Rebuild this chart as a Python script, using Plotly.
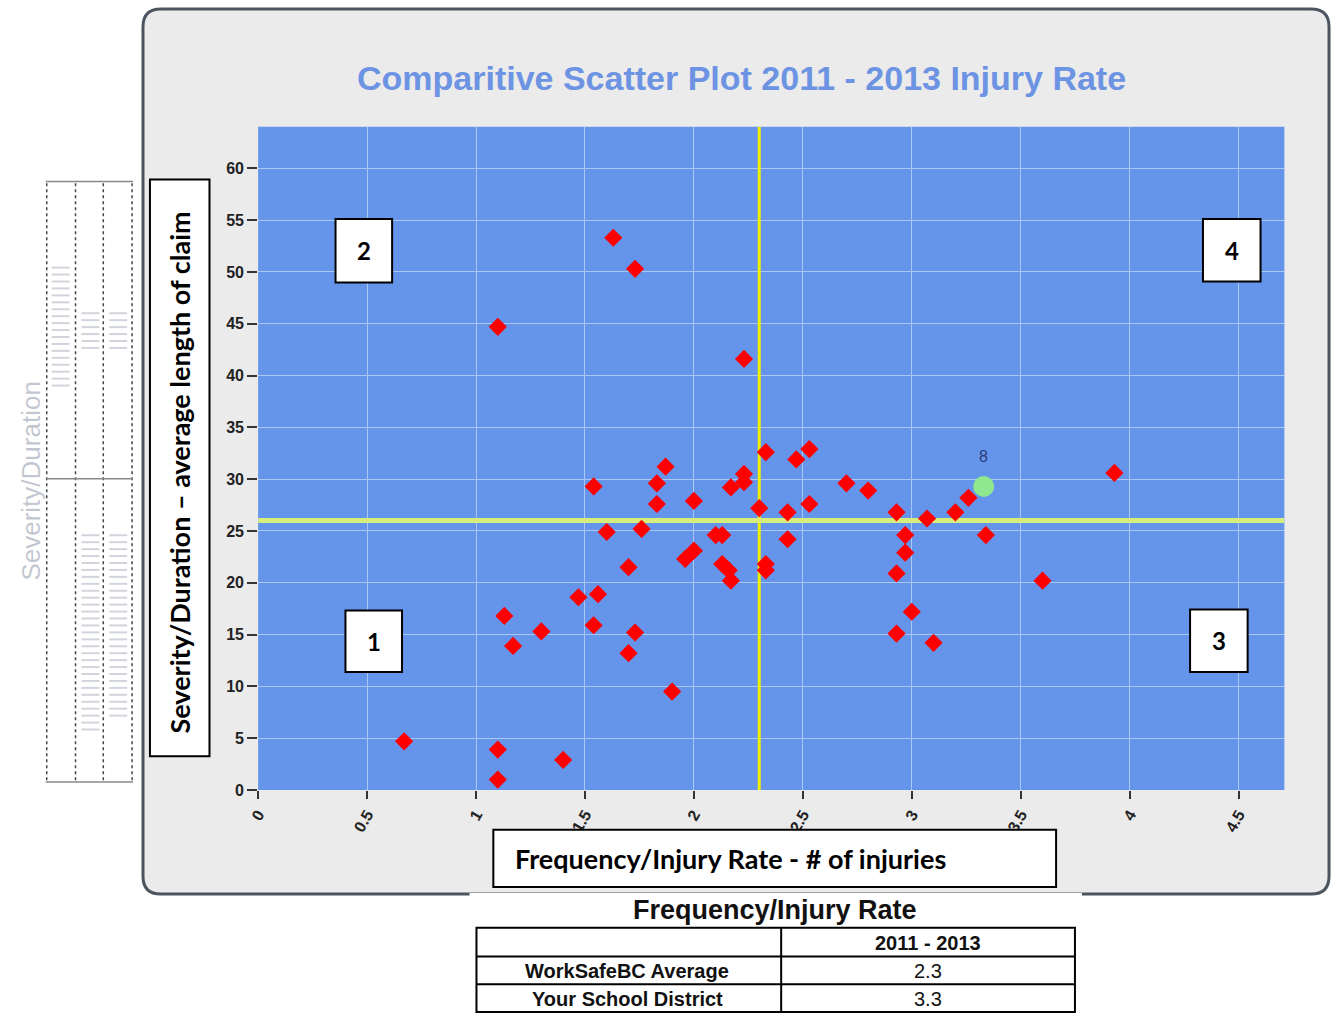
import plotly.graph_objects as go

# ---------------- data ----------------
freq_rate = [0.67, 1.10, 1.10, 1.10, 1.13, 1.17, 1.30, 1.40, 1.47, 1.54, 1.54, 1.56, 1.60, 1.63, 1.73,
             1.70, 1.70, 1.73, 1.76, 1.83, 1.83, 1.87, 1.90, 1.96, 2.00, 2.00, 2.10, 2.13, 2.13, 2.16,
             2.17, 2.17, 2.23, 2.23, 2.23, 2.30, 2.33, 2.33, 2.33, 2.43, 2.43, 2.47, 2.53, 2.53, 2.70,
             2.80, 2.93, 2.93, 2.93, 2.97, 2.97, 3.00, 3.07, 3.10, 3.20, 3.26, 3.34, 3.60, 3.93]
severity = [4.7, 44.7, 3.9, 1.0, 16.8, 13.9, 15.3, 2.9, 18.6, 29.3, 15.9, 18.9, 24.9, 53.3, 50.3,
            21.5, 13.2, 15.2, 25.2, 27.6, 29.6, 31.2, 9.5, 22.3, 23.1, 27.9, 24.6, 24.6, 21.8, 21.2,
            20.2, 29.2, 41.6, 30.5, 29.7, 27.2, 32.6, 21.8, 21.2, 26.8, 24.2, 31.9, 32.9, 27.6, 29.6,
            28.9, 26.8, 20.9, 15.1, 24.6, 22.9, 17.2, 26.2, 14.2, 26.8, 28.2, 24.6, 20.2, 30.6]

district_x = [3.33]
district_y = [29.3]
district_label = ["8"]

avg_severity = 26.0

x_ticks = [0, 0.5, 1, 1.5, 2, 2.5, 3, 3.5, 4, 4.5]
x_tick_text = ["0", "0.5", "1", "1.5", "2", "2.5", "3", "3.5", "4", "4.5"]
y_ticks = [0, 5, 10, 15, 20, 25, 30, 35, 40, 45, 50, 55, 60]
y_tick_text = ["0", "5", "10", "15", "20", "25", "30", "35", "40", "45", "50", "55", "60"]

table_title = "Frequency/Injury Rate"
table_header = ["", "2011 - 2013"]
table_rows = ["WorkSafeBC Average", "Your School District"]
table_values = [2.3, 3.3]

quadrant_labels = ["1", "2", "3", "4"]

title_text = "Comparitive Scatter Plot 2011 - 2013 Injury Rate"
x_label = "Frequency/Injury Rate - # of injuries"
y_label = "Severity/Duration \u2013 average length of claim"

# ---------------- geometry helpers ----------------
W, H = 1332, 1022


def fx(px):
    return px / W


def fy(py):
    return 1 - py / H


X_RANGE = [0, 4.71]
Y_RANGE = [0, 64]

fig = go.Figure()

# average lines
avg_rate = table_values[0]
fig.add_trace(go.Scatter(x=[avg_rate, avg_rate], y=Y_RANGE, mode="lines",
                         line=dict(color="#f2ee00", width=3), hoverinfo="skip"))
fig.add_trace(go.Scatter(x=X_RANGE, y=[avg_severity, avg_severity], mode="lines",
                         line=dict(color="#d8ee7c", width=5), hoverinfo="skip"))

# districts
fig.add_trace(go.Scatter(x=freq_rate, y=severity, mode="markers",
                         marker=dict(symbol="diamond", size=14, color="#ff0000",
                                     line=dict(width=0))))
fig.add_trace(go.Scatter(x=district_x, y=district_y, mode="markers",
                         marker=dict(symbol="circle", size=21, color="#8fe88f")))

shapes = []
annotations = []


def text_ann(px, py, text, size, family="Liberation Sans", color="black", angle=0,
             xanchor="center", yanchor="middle"):
    annotations.append(dict(x=fx(px), y=fy(py), xref="paper", yref="paper", showarrow=False,
                            text=text, textangle=angle, xanchor=xanchor, yanchor=yanchor,
                            font=dict(family=family, size=size, color=color)))


def rounded_path(L, T, R, B, r):
    return (f"M {fx(L + r)},{fy(T)} L {fx(R - r)},{fy(T)} Q {fx(R)},{fy(T)} {fx(R)},{fy(T + r)} "
            f"L {fx(R)},{fy(B - r)} Q {fx(R)},{fy(B)} {fx(R - r)},{fy(B)} "
            f"L {fx(L + r)},{fy(B)} Q {fx(L)},{fy(B)} {fx(L)},{fy(B - r)} "
            f"L {fx(L)},{fy(T + r)} Q {fx(L)},{fy(T)} {fx(L + r)},{fy(T)} Z")


# outer panel (rounded)
shapes.append(dict(type="path", path=rounded_path(134, 9, 1329, 902, 18), xref="paper", yref="paper",
                   layer="below", fillcolor="#ebebeb", line=dict(color="#4b5560", width=3)))
# plot area background
shapes.append(dict(type="rect", xref="paper", yref="paper", layer="below",
                   x0=fx(250), x1=fx(1284), y0=fy(797), y1=fy(128),
                   fillcolor="#6594eb", line=dict(width=0)))

# left faded table decoration
for xx in [37, 66, 94, 123]:
    shapes.append(dict(type="line", xref="paper", yref="paper", x0=fx(xx), x1=fx(xx),
                       y0=fy(185), y1=fy(789), line=dict(color="#444444", width=1.5, dash="dot")))
for yy in [183, 483, 789]:
    shapes.append(dict(type="line", xref="paper", yref="paper", x0=fx(36), x1=fx(124),
                       y0=fy(yy), y1=fy(yy), line=dict(color="#888888", width=1.5)))
for (x0, x1, y0, y1) in [(42, 60, 270, 390), (72, 90, 316, 356), (100, 118, 316, 356),
                         (72, 90, 540, 740), (100, 118, 540, 725)]:
    for k in range(int(y0), int(y1), 7):
        shapes.append(dict(type="line", xref="paper", yref="paper", x0=fx(x0), x1=fx(x1),
                           y0=fy(k), y1=fy(k), line=dict(color="rgba(90,100,125,0.28)", width=2)))
text_ann(21, 485, "Severity/Duration", 26, color="rgba(80,90,120,0.35)", angle=-90)

# y label box
shapes.append(dict(type="rect", xref="paper", yref="paper", layer="above",
                   x0=fx(141), x1=fx(201), y0=fy(763), y1=fy(181),
                   fillcolor="white", line=dict(color="black", width=2)))
# x label box
shapes.append(dict(type="rect", xref="paper", yref="paper", layer="above",
                   x0=fx(487), x1=fx(1054), y0=fy(895), y1=fy(837),
                   fillcolor="white", line=dict(color="black", width=2)))

# quadrant boxes
quad_boxes = {"1": (338, 395, 616, 678), "2": (328, 385, 221, 285),
              "3": (1189, 1247, 615, 678), "4": (1202, 1260, 221, 284)}
for q in quadrant_labels:
    x0, x1, y0, y1 = quad_boxes[q]
    shapes.append(dict(type="rect", xref="paper", yref="paper", layer="above",
                       x0=fx(x0), x1=fx(x1), y0=fy(y1), y1=fy(y0),
                       fillcolor="white", line=dict(color="black", width=2)))
    text_ann((x0 + x1) / 2, (y0 + y1) / 2, f"<b>{q}</b>", 24, family="Lato")

# bottom table area
shapes.append(dict(type="rect", xref="paper", yref="paper", layer="above",
                   x0=fx(463), x1=fx(1080), y0=fy(1022), y1=fy(901),
                   fillcolor="white", line=dict(width=0)))
shapes.append(dict(type="rect", xref="paper", yref="paper", layer="above",
                   x0=fx(470), x1=fx(1073), y0=fy(1021), y1=fy(936),
                   fillcolor="white", line=dict(color="black", width=2)))
for yy in [965, 993]:
    shapes.append(dict(type="line", xref="paper", yref="paper", layer="above",
                       x0=fx(470), x1=fx(1073), y0=fy(yy), y1=fy(yy),
                       line=dict(color="black", width=2)))
shapes.append(dict(type="line", xref="paper", yref="paper", layer="above",
                   x0=fx(777), x1=fx(777), y0=fy(1021), y1=fy(936),
                   line=dict(color="black", width=2)))

# texts
text_ann(737, 79, f"<b>{title_text}</b>", 34, color="#6d93e3")
text_ann(171, 477, f"<b>{y_label}</b>", 27, family="Lato", angle=-90)
text_ann(507, 866, f"<b>{x_label}</b>", 27, family="Lato", xanchor="left")

text_ann(771, 918, f"<b>{table_title}</b>", 27, color="#111111")
text_ann(925, 951, f"<b>{table_header[1]}</b>", 20, color="#111111")
row_y = [980, 1008]
for name, val, yy in zip(table_rows, table_values, row_y):
    text_ann(622, yy, f"<b>{name}</b>", 20, color="#111111")
    text_ann(925, yy, f"{val}", 20, color="#111111")

# district label above the green point
for dx, dy, lab in zip(district_x, district_y, district_label):
    annotations.append(dict(x=dx, y=dy, xref="x", yref="y", text=lab, showarrow=False,
                            yshift=30, xanchor="center", yanchor="middle",
                            font=dict(family="Liberation Sans", size=16, color="#2b3f78")))

fig.update_layout(
    width=W, height=H, margin=dict(l=0, r=0, t=0, b=0),
    paper_bgcolor="white", plot_bgcolor="rgba(0,0,0,0)",
    showlegend=False, shapes=shapes, annotations=annotations,
    xaxis=dict(domain=[fx(250), fx(1284)], range=X_RANGE, tickvals=x_ticks, ticktext=x_tick_text,
               tickangle=-60, showgrid=True, gridcolor="#abc8f5", gridwidth=1,
               zeroline=False, showline=False, ticks="outside", ticklen=8, tickwidth=2,
               tickcolor="#333333",
               tickfont=dict(family="Liberation Sans", size=16, color="#222222", weight="bold")),
    yaxis=dict(domain=[fy(797), fy(128)], range=Y_RANGE, tickvals=y_ticks, ticktext=y_tick_text,
               showgrid=True, gridcolor="#abc8f5", gridwidth=1,
               zeroline=False, showline=False, ticks="outside", ticklen=10, tickwidth=2,
               tickcolor="#333333",
               tickfont=dict(family="Liberation Sans", size=16, color="#222222", weight="bold")),
)

fig.write_html("out.html", config={"displayModeBar": False},
               post_script="document.body.style.margin='0';document.body.style.overflow='hidden';")
